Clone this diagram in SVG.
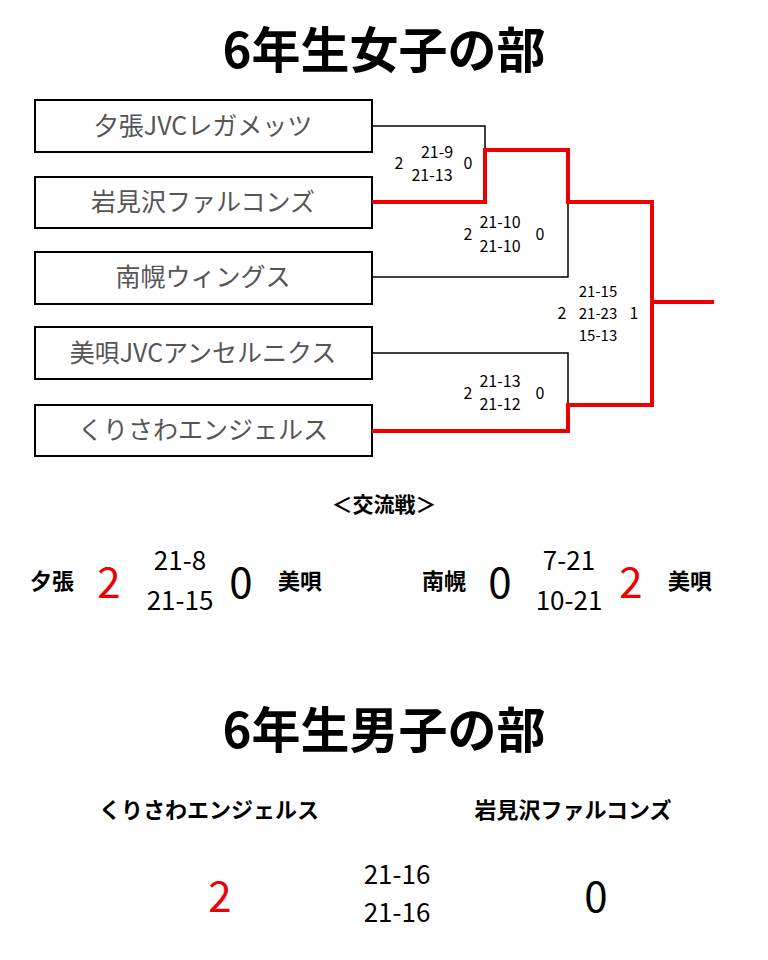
<svg xmlns="http://www.w3.org/2000/svg" width="768" height="960" viewBox="0 0 768 960">
<style>
text{font-family:"Noto Sans CJK JP","Noto Sans",sans-serif}
.title{font-size:49px;font-weight:bold;text-anchor:middle}
.box{fill:#fff;stroke:#000;stroke-width:2}
.name{font-size:25px;fill:#555;text-anchor:middle}
.sc{font-size:16px;text-anchor:middle}
.sc2{font-size:15px;text-anchor:middle}
.blk{fill:none;stroke:#000;stroke-width:1.5}
.red{fill:none;stroke:#e00;stroke-width:4}
.team{font-size:22px;font-weight:bold;text-anchor:middle}
.big{font-size:42px;text-anchor:middle}
.mid{font-size:26px;text-anchor:middle}
</style>
<rect width="768" height="960" fill="#fff"/>
<text class="title" x="384" y="68">6年生女子の部</text>
<g id="n1"><rect class="box" x="35" y="100" width="337" height="52"/><text class="name" x="203" y="135">夕張JVCレガメッツ</text></g>
<g id="n2"><rect class="box" x="35" y="177" width="337" height="51"/><text class="name" x="203" y="211">岩見沢ファルコンズ</text></g>
<g id="n3"><rect class="box" x="35" y="252" width="337" height="52"/><text class="name" x="203" y="286">南幌ウィングス</text></g>
<g id="n4"><rect class="box" x="35" y="327" width="337" height="52"/><text class="name" x="203" y="362">美唄JVCアンセルニクス</text></g>
<g id="n5"><rect class="box" x="35" y="405" width="337" height="51"/><text class="name" x="203" y="439">くりさわエンジェルス</text></g>
<g id="connectors">
<path class="blk" d="M372 126H485V150"/>
<path class="blk" d="M372 277H568V202"/>
<path class="blk" d="M372 353H568V405"/>
<path class="blk" d="M652 302V405"/>
<path class="red" d="M372 202H485V150H568V202H652V302H714"/>
<path class="red" d="M372 431H568V405H652V302"/>
</g>
<g id="scores">
<text class="sc" x="437" y="158">21-9</text><text class="sc" x="432" y="181">21-13</text>
<text class="sc" x="399" y="169">2</text><text class="sc" x="468" y="169">0</text>
<text class="sc" x="500" y="228">21-10</text><text class="sc" x="500" y="252">21-10</text>
<text class="sc" x="468" y="240">2</text><text class="sc" x="540" y="240">0</text>
<text class="sc2" x="598" y="297">21-15</text><text class="sc2" x="598" y="319">21-23</text><text class="sc2" x="598" y="341">15-13</text>
<text class="sc" x="562" y="319">2</text><text class="sc" x="634" y="319">1</text>
<text class="sc" x="500" y="387">21-13</text><text class="sc" x="500" y="410">21-12</text>
<text class="sc" x="468" y="399">2</text><text class="sc" x="540" y="399">0</text>
</g>
<text x="384" y="512" font-size="21" font-weight="bold" text-anchor="middle">＜交流戦＞</text>
<g id="ex1">
<text class="team" x="52" y="589">夕張</text>
<text class="big" x="109" y="598" fill="#e00">2</text>
<text class="mid" x="180" y="570">21-8</text><text class="mid" x="180" y="610">21-15</text>
<text class="big" x="241" y="598">0</text>
<text class="team" x="300" y="589">美唄</text>
</g>
<g id="ex2">
<text class="team" x="444" y="589">南幌</text>
<text class="big" x="500" y="598">0</text>
<text class="mid" x="569" y="570">7-21</text><text class="mid" x="569" y="610">10-21</text>
<text class="big" x="631" y="598" fill="#e00">2</text>
<text class="team" x="690" y="589">美唄</text>
</g>
<text class="title" x="384" y="748">6年生男子の部</text>
<g id="boys">
<text class="team" x="209" y="818" font-size="31">くりさわエンジェルス</text>
<text class="team" x="573" y="818" font-size="31">岩見沢ファルコンズ</text>
<text class="big" x="220" y="912" fill="#e00">2</text>
<text class="mid" x="397" y="884">21-16</text><text class="mid" x="397" y="922">21-16</text>
<text class="big" x="596" y="912">0</text>
</g>
</svg>
